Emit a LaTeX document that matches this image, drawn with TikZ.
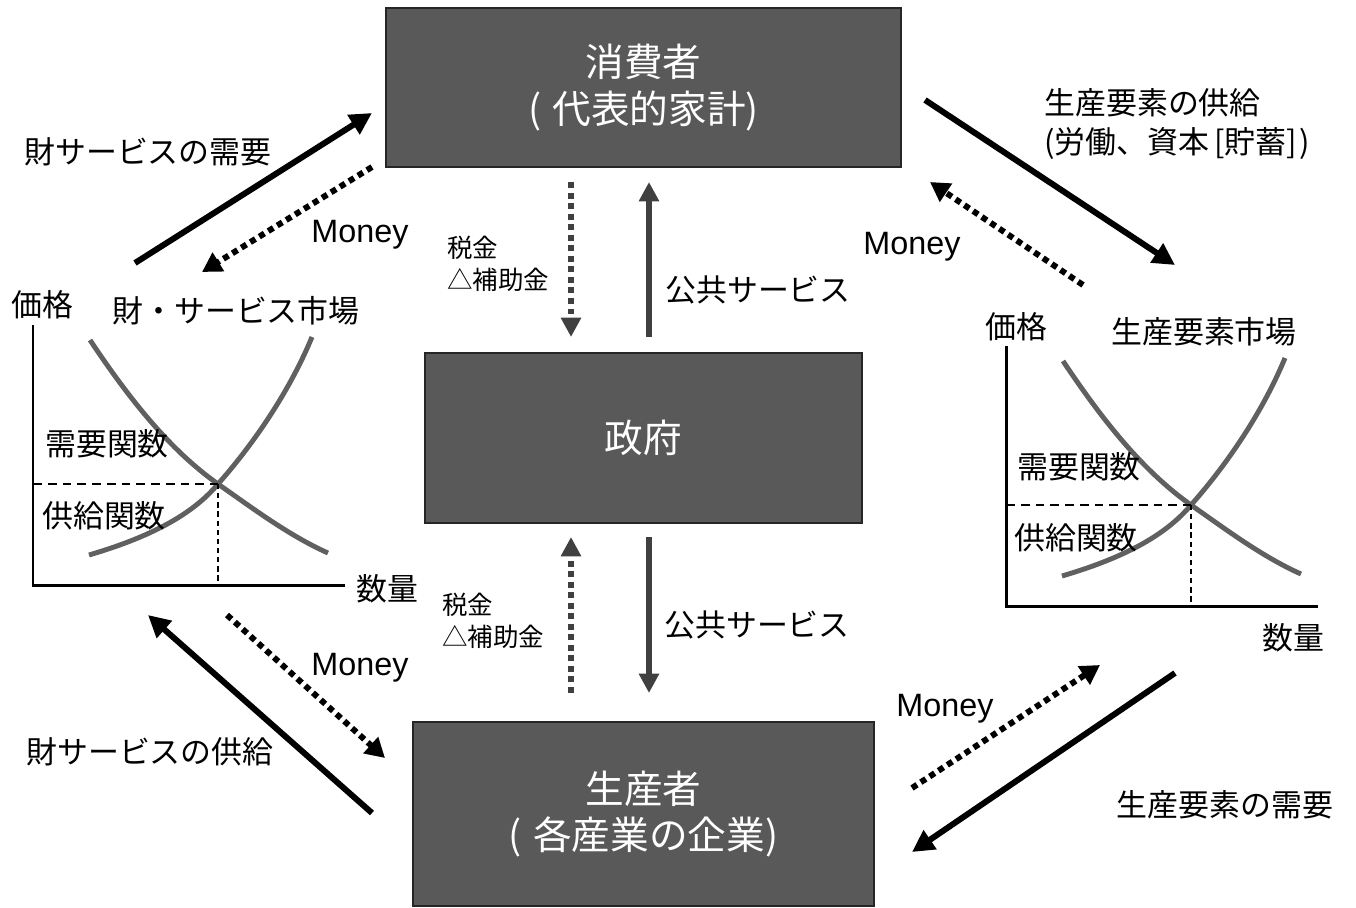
\documentclass[tikz,border=0pt]{standalone}
\usepackage{fontspec}
\setmainfont{Liberation Sans}
\newfontfamily\jp{Noto Sans CJK JP}
\usetikzlibrary{arrows.meta}
\definecolor{boxgray}{HTML}{595959}
\definecolor{govgray}{HTML}{404040}
\definecolor{curvegray}{HTML}{606060}
\tikzset{
  box/.style={draw=black!85, line width=1pt, fill=boxgray, text=white, font=\jp\fontsize{22}{26.5}\selectfont, align=center, inner sep=0},
  lbl/.style={font=\jp\fontsize{17.6}{22}\selectfont, inner sep=0},
  small/.style={font=\jp\fontsize{14.5}{18}\selectfont, inner sep=0, align=left, anchor=west},
  money/.style={font=\fontsize{18.4}{21}\selectfont, inner sep=0},
  flow/.style={line width=3.4pt, -{Triangle[length=12.5pt,width=12.5pt]}},
  moneyflow/.style={line width=3.4pt, dash pattern=on 3.4pt off 2.6pt, -{Triangle[length=11pt,width=12pt]}},
  govflow/.style={draw=govgray, line width=3.6pt, -{Triangle[length=11pt,width=11pt,fill=govgray]}},
  govdot/.style={govflow, dash pattern=on 3.4pt off 2.6pt},
  axis/.style={line width=1.7pt},
  curve/.style={draw=curvegray, line width=2.8pt},
  eqh/.style={line width=1.6pt, dash pattern=on 5pt off 3.4pt},
  eqv/.style={line width=0.6pt, dash pattern=on 3pt off 2.2pt}
}
\begin{document}
\begin{tikzpicture}[x=0.02cm,y=-0.02cm]
\useasboundingbox (0,0) rectangle (1356,907);

% ---- boxes
\node[box, minimum width=10.3cm, minimum height=3.18cm] (cons) at (643.5,87.5) {消費者\\(\kern0.3em代表的家計)};
\node[box, minimum width=8.74cm, minimum height=3.4cm] (gov) at (643.5,438) {政府};
\node[box, minimum width=9.22cm, minimum height=3.68cm] (prod) at (643.5,814) {生産者\\(\kern0.3em各産業の企業)};

% ---- top-left flows
\coordinate (a1s) at (135,263); \coordinate (a1e) at (372,113);
\draw[flow] (a1s) -- (a1e);
\node[lbl] (l1) at (148,152) {財サービスの需要};
\coordinate (m1s) at (372,167); \coordinate (m1e) at (202,272);
\draw[moneyflow] (m1s) -- (m1e);
\node[money] (lm1) at (360,235) {Money};

% ---- top-right flows
\coordinate (a2s) at (925,100); \coordinate (a2e) at (1175,265);
\draw[flow] (a2s) -- (a2e);
\node[lbl, anchor=west, align=left, font=\jp\fontsize{17.6}{22.2}\selectfont] (l2) at (1044,124.5) {生産要素の供給\\(労働、資本\kern0.15em[貯蓄]\kern0.1em)};
\coordinate (m2s) at (1083,285); \coordinate (m2e) at (930,182);
\draw[moneyflow] (m2s) -- (m2e);
\node[money] (lm2) at (912,247) {Money};

% ---- government flows (upper)
\coordinate (t1s) at (571,182); \coordinate (t1e) at (571,337);
\draw[govdot] (t1s) -- (t1e);
\node[small] (lt1) at (447,264) {税金\\△補助金};
\coordinate (p1s) at (649,337); \coordinate (p1e) at (649,182);
\draw[govflow] (p1s) -- (p1e);
\node[lbl] (lp1) at (758,290) {公共サービス};

% ---- government flows (lower)
\coordinate (t2s) at (571,693); \coordinate (t2e) at (571,537);
\draw[govdot] (t2s) -- (t2e);
\node[small] (lt2) at (442,621) {税金\\△補助金};
\coordinate (p2s) at (649,537); \coordinate (p2e) at (649,693);
\draw[govflow] (p2s) -- (p2e);
\node[lbl] (lp2) at (757,625) {公共サービス};

% ---- bottom-left flows
\coordinate (a3s) at (372,813); \coordinate (a3e) at (148,615);
\draw[flow] (a3s) -- (a3e);
\node[lbl] (l3) at (150,752) {財サービスの供給};
\coordinate (m3s) at (227,615); \coordinate (m3e) at (385,758);
\draw[moneyflow] (m3s) -- (m3e);
\node[money] (lm3) at (360,668) {Money};

% ---- bottom-right flows
\coordinate (a4s) at (1175,673); \coordinate (a4e) at (912,852);
\draw[flow] (a4s) -- (a4e);
\node[lbl] (l4) at (1225,805) {生産要素の需要};
\coordinate (m4s) at (912,788); \coordinate (m4e) at (1100,665);
\draw[moneyflow] (m4s) -- (m4e);
\node[money] (lm4) at (945,709) {Money};

% ---- left market
\coordinate (LY) at (33,325); \coordinate (LO) at (33,585); \coordinate (LX) at (345,585);
\coordinate (LE) at (218,484);
\coordinate (LP) at (33,484); \coordinate (LQ) at (218,585);
\draw[curve] (90,340) .. controls (130,400) and (170,450) .. (LE) .. controls (255,510) and (290,536) .. (328,553);
\draw[curve] (89,555) .. controls (150,537) and (192,515) .. (LE) .. controls (250,448) and (288,395) .. (312,337);
\draw[eqh] (LP) -- (LE);
\draw[eqv] (LE) -- (LQ);
\draw[axis] (LY) -- (LO) -- (LX);
\node[lbl] (lpL) at (42,305) {価格};
\node[lbl] (ltL) at (236,311) {財・サービス市場};
\node[lbl] (ldL) at (107,444) {需要関数};
\node[lbl] (lsL) at (104,516) {供給関数};
\node[lbl] (lqL) at (387,589) {数量};

% ---- right market
\begin{scope}[shift={(973,21)}]
\coordinate (RY) at (33,325); \coordinate (RO) at (33,585); \coordinate (RX) at (345,585);
\coordinate (RE) at (218,484);
\coordinate (RP) at (33,484); \coordinate (RQ) at (218,585);
\draw[curve] (90,340) .. controls (130,400) and (170,450) .. (RE) .. controls (255,510) and (290,536) .. (328,553);
\draw[curve] (89,555) .. controls (150,537) and (192,515) .. (RE) .. controls (250,448) and (288,395) .. (312,337);
\draw[eqh] (RP) -- (RE);
\draw[eqv] (RE) -- (RQ);
\draw[axis] (RY) -- (RO) -- (RX);
\end{scope}
\node[lbl] (lpR) at (1016,327) {価格};
\node[lbl] (ltR) at (1204,332) {生産要素市場};
\node[lbl] (ldR) at (1079,467) {需要関数};
\node[lbl] (lsR) at (1076,538) {供給関数};
\node[lbl] (lqR) at (1293,638) {数量};
\end{tikzpicture}
\end{document}
